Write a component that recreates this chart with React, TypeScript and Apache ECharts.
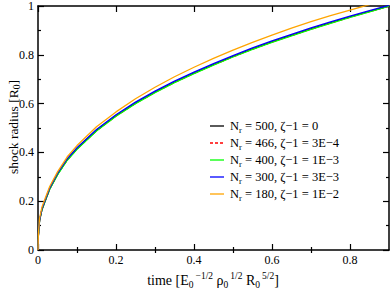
import React, { useEffect, useRef } from "react";
import * as echarts from "echarts";

const times = [0, 0.001, 0.004, 0.01, 0.018, 0.03, 0.05, 0.075, 0.1, 0.15, 0.2, 0.25, 0.3, 0.35, 0.4, 0.45, 0.5, 0.55, 0.6, 0.65, 0.7, 0.75, 0.8, 0.85, 0.9];
const r500 = [0, 0.06, 0.12, 0.165, 0.2, 0.25, 0.31, 0.37, 0.415, 0.49, 0.55, 0.602, 0.647, 0.688, 0.725, 0.76, 0.793, 0.824, 0.853, 0.88, 0.906, 0.931, 0.955, 0.978, 1.0];
const r466 = [0, 0.06, 0.12, 0.165, 0.2, 0.25, 0.31, 0.369, 0.414, 0.489, 0.549, 0.601, 0.646, 0.687, 0.724, 0.759, 0.792, 0.823, 0.852, 0.879, 0.905, 0.93, 0.954, 0.977, 0.999];
const r400 = [0, 0.06, 0.12, 0.164, 0.199, 0.249, 0.308, 0.368, 0.413, 0.488, 0.548, 0.6, 0.645, 0.686, 0.723, 0.758, 0.791, 0.822, 0.851, 0.878, 0.904, 0.929, 0.953, 0.976, 0.999];
const r300 = [0, 0.062, 0.122, 0.168, 0.203, 0.254, 0.314, 0.374, 0.419, 0.494, 0.554, 0.606, 0.651, 0.692, 0.729, 0.764, 0.797, 0.828, 0.857, 0.884, 0.91, 0.935, 0.959, 0.981, 1.003];
const r180 = [0, 0.065, 0.13, 0.175, 0.21, 0.26, 0.32, 0.382, 0.428, 0.505, 0.566, 0.62, 0.667, 0.71, 0.749, 0.785, 0.819, 0.851, 0.881, 0.909, 0.936, 0.961, 0.983, 1.006, 1.03];

const seriesNames = ["500", "466", "400", "300", "180"];
const seriesZeta = ["0", "3E\u22124", "1E\u22123", "3E\u22123", "1E\u22122"];
const seriesColors = ["#000000", "#ff0000", "#00ff00", "#0000ff", "#ffa500"];
const seriesData = [r500, r466, r400, r300, r180];

const xMajorTicks = [0, 0.2, 0.4, 0.6, 0.8];
const xMinorTicks = [0.1, 0.3, 0.5, 0.7];

const FONT = "Liberation Serif";

export default function App() {
  const ref = useRef<HTMLDivElement>(null);
  useEffect(() => {
    const chart = echarts.init(ref.current!, null, { renderer: "svg" });
    const axisLine = { show: true, onZero: false, lineStyle: { color: "#000", width: 1.5 } };
    const baseX = { type: "value", min: 0, max: 0.9, splitLine: { show: false } };
    const labelStyle = { fontFamily: FONT, fontSize: 12, color: "#000" };
    const tickStyle = { color: "#000", width: 1.2 };

    const legendGraphics: any[] = [];
    seriesNames.forEach((n, i) => {
      const y = 126 + i * 17;
      legendGraphics.push({
        type: "line",
        shape: { x1: 210, y1: y, x2: 224, y2: y },
        style: { stroke: seriesColors[i], lineWidth: 1.3, lineDash: i === 1 ? [3, 2] : null },
        z: 10,
      });
      legendGraphics.push({
        type: "text",
        x: 230,
        y: y,
        z: 10,
        style: {
          text: "{n|N}{s|r}{n| = " + n + ", \u03b6\u22121 = " + seriesZeta[i] + "}",
          verticalAlign: "middle",
          align: "left",
          fill: "#000",
          rich: {
            n: { fontFamily: FONT, fontSize: 12.5, fill: "#000" },
            s: { fontFamily: FONT, fontSize: 8.5, fill: "#000", padding: [7, 0, 0, 0] },
          },
        },
      });
    });

    const option: any = {
      animation: false,
      grid: { left: 38, right: 1, top: 5, bottom: 48, containLabel: false },
      xAxis: [
        {
          ...baseX,
          position: "bottom",
          axisLine,
          axisTick: { show: true, inside: true, length: 6, lineStyle: tickStyle, customValues: xMajorTicks },
          axisLabel: { ...labelStyle, margin: 4, customValues: xMajorTicks, formatter: (v: number) => (v === 0 ? "0" : v.toFixed(1)) },
        },
        {
          ...baseX,
          position: "top",
          axisLine,
          axisTick: { show: true, inside: true, length: 6, lineStyle: tickStyle, customValues: xMajorTicks },
          axisLabel: { show: false },
        },
        {
          ...baseX,
          position: "bottom",
          axisLine: { show: false },
          axisTick: { show: true, inside: true, length: 3, lineStyle: tickStyle, customValues: xMinorTicks },
          axisLabel: { show: false },
        },
        {
          ...baseX,
          position: "top",
          axisLine: { show: false },
          axisTick: { show: true, inside: true, length: 3, lineStyle: tickStyle, customValues: xMinorTicks },
          axisLabel: { show: false },
        },
      ],
      yAxis: [
        {
          type: "value",
          min: 0,
          max: 1,
          interval: 0.2,
          position: "left",
          splitLine: { show: false },
          axisLine,
          axisTick: { show: true, inside: true, length: 6, lineStyle: tickStyle },
          minorTick: { show: true, splitNumber: 2, length: 3, lineStyle: tickStyle },
          axisLabel: { ...labelStyle, margin: 4, formatter: (v: number) => (v === 0 || v === 1 ? String(v) : v.toFixed(1)) },
        },
        {
          type: "value",
          min: 0,
          max: 1,
          interval: 0.2,
          position: "right",
          splitLine: { show: false },
          axisLine,
          axisTick: { show: true, inside: true, length: 6, lineStyle: tickStyle },
          minorTick: { show: true, splitNumber: 2, length: 3, lineStyle: tickStyle },
          axisLabel: { show: false },
        },
      ],
      series: seriesData.map((vals, i) => ({
        name: "Nr = " + seriesNames[i] + ", \u03b6\u22121 = " + seriesZeta[i],
        type: "line",
        xAxisIndex: 0,
        yAxisIndex: 0,
        data: times.map((t, j) => [t, vals[j]]),
        showSymbol: false,
        symbol: "none",
        smooth: false,
        clip: true,
        lineStyle: { color: seriesColors[i], width: 1.3, type: i === 1 ? [4, 3] : "solid" },
        itemStyle: { color: seriesColors[i] },
        z: 2 + i,
      })),
      graphic: [
        {
          type: "text",
          x: 13,
          y: 127,
          rotation: Math.PI / 2,
          style: {
            text: "{n|shock radius [R}{s|0}{n|]}",
            align: "center",
            verticalAlign: "middle",
            fill: "#000",
            rich: {
              n: { fontFamily: FONT, fontSize: 13.5, fill: "#000" },
              s: { fontFamily: FONT, fontSize: 9.5, fill: "#000", padding: [7, 0, 0, 0] },
            },
          },
        },
        {
          type: "text",
          x: 213,
          y: 280,
          style: {
            text: "{n|time [E}{s|0}{p|\u22121/2}{n| \u03c1}{s|0}{p|1/2}{n| R}{s|0}{p|5/2}{n|]}",
            align: "center",
            verticalAlign: "middle",
            fill: "#000",
            rich: {
              n: { fontFamily: FONT, fontSize: 14, fill: "#000" },
              s: { fontFamily: FONT, fontSize: 9.5, fill: "#000", padding: [9, 0, 0, 0] },
              p: { fontFamily: FONT, fontSize: 9.5, fill: "#000", padding: [0, 0, 9, 2] },
            },
          },
        },
        ...legendGraphics,
      ],
    };
    chart.setOption(option);
    return () => chart.dispose();
  }, []);
  return <div ref={ref} style={{ width: 390, height: 298, position: "absolute", left: 0, top: 0 }} />;
}
